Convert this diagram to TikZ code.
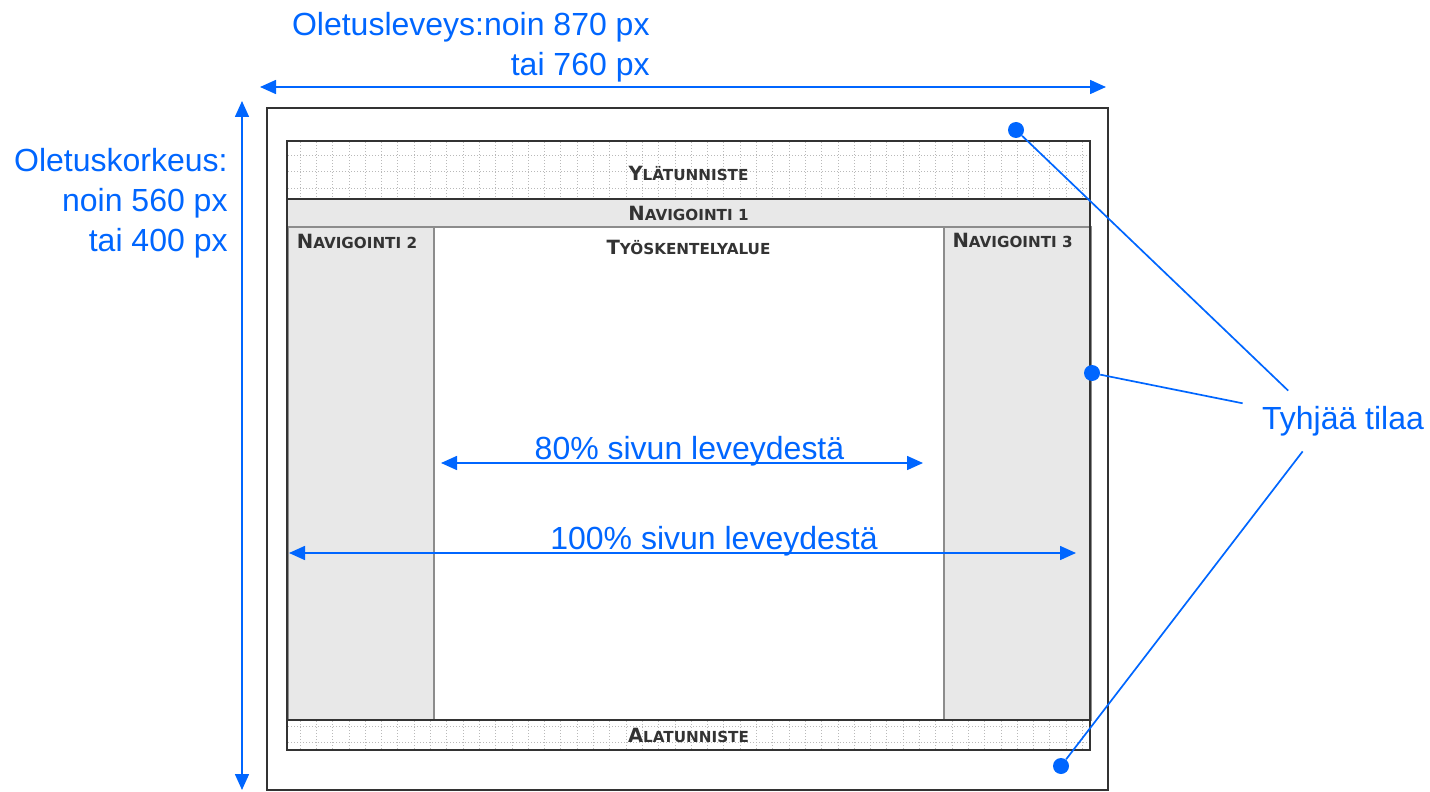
\documentclass[tikz,border=0pt]{standalone}
\usepackage{fontspec}
\setmainfont{Liberation Sans}
\newfontfamily\boxfont{DejaVu Sans}
\usetikzlibrary{arrows.meta}
\definecolor{annoblue}{RGB}{0,102,255}
\definecolor{framegray}{RGB}{51,51,51}
\definecolor{dividergray}{RGB}{140,140,140}
\definecolor{panelgray}{RGB}{232,232,232}
\definecolor{dotgrid}{RGB}{185,185,185}
\newcommand{\fakesc}[2]{{\fontsize{9.8}{11}\selectfont #1}{\fontsize{7.6}{9}\selectfont #2}}

\begin{document}
\begin{tikzpicture} [
      x=0.5pt, y=-0.5pt,
      region/.style={draw=dividergray, line width=1pt, rectangle, inner sep=0pt, outer sep=0pt},
      band/.style={region, draw=framegray, minimum width=401.5pt},
      boxlabel/.style={inner sep=0pt, font=\boxfont\bfseries, text=black!80, text height=7.2pt, text depth=0pt},
      dimension/.style={{Triangle[length=8pt, width=7pt]}-{Triangle[length=8pt, width=7pt]}, line width=0.8pt, draw=annoblue, fill=annoblue},
      dimlabel/.style={text=annoblue, font=\fontsize{16}{20}\selectfont, inner sep=0pt},
      spot/.style={circle, fill=annoblue, minimum size=8pt, inner sep=0pt},
      leader/.style={draw=annoblue, line width=0.85pt},
      gridline/.style={draw=dotgrid, line width=0.4pt, dash pattern=on 0.5pt off 1pt}
   ]
    \useasboundingbox (0,0) rectangle (1430,792);

    \node[region, draw=framegray, minimum width=420.5pt, minimum height=341pt] (sivu) at (687.5,449) {};

    \node[band, minimum height=29pt] (ylatunniste) at (688.5,170) {};
    \node[band, fill=panelgray, minimum height=14pt, below of=ylatunniste, node distance=21.5pt] (nav1) {};
    \node[region, fill=white, minimum width=255pt, minimum height=246.5pt, below of=nav1, node distance=130.25pt] (tyoalue) {};
    \node[region, fill=panelgray, minimum width=73pt, minimum height=246.5pt, left of=tyoalue, node distance=164pt] (nav2) {};
    \node[region, fill=panelgray, minimum width=73.5pt, minimum height=246.5pt, right of=tyoalue, node distance=164.25pt] (nav3) {};
    \node[band, minimum height=15pt, below of=tyoalue, node distance=130.75pt] (alatunniste) {};

    \foreach \k in {1,...,49} {
      \draw[gridline] ([xshift=\k*8.15pt-1.65pt, yshift=-0.6pt]ylatunniste.north west) -- ([xshift=\k*8.15pt-1.65pt, yshift=0.6pt]ylatunniste.south west);
      \draw[gridline] ([xshift=\k*8.15pt-1.65pt, yshift=-0.6pt]alatunniste.north west) -- ([xshift=\k*8.15pt-1.65pt, yshift=0.6pt]alatunniste.south west);
    }
    \foreach \k in {1,2,3}
      \draw[gridline] ([xshift=0.6pt, yshift=-\k*8.25pt+1.25pt]ylatunniste.north west) -- ([xshift=-0.6pt, yshift=-\k*8.25pt+1.25pt]ylatunniste.north east);
    \foreach \d in {3,11}
      \draw[gridline] ([xshift=0.6pt, yshift=-\d pt]alatunniste.north west) -- ([xshift=-0.6pt, yshift=-\d pt]alatunniste.north east);

    \draw[framegray, line width=1pt] (ylatunniste.north west) rectangle (alatunniste.south east);

    \node[boxlabel] (lblYla) at ([yshift=-1.5pt]ylatunniste.center) {\fakesc{Y}{LÄTUNNISTE}};
    \node[boxlabel] (lblNav1) at (nav1) {\fakesc{N}{AVIGOINTI 1}};
    \node[boxlabel, anchor=west] (lblNav2) at ([xshift=4.5pt, yshift=-7pt]nav2.north west) {\fakesc{N}{AVIGOINTI 2}};
    \node[boxlabel] (lblTyo) at ([yshift=-10.25pt]tyoalue.north) {\fakesc{T}{YÖSKENTELYALUE}};
    \node[boxlabel, anchor=west] (lblNav3) at ([xshift=4.3pt, yshift=-6.5pt]nav3.north west) {\fakesc{N}{AVIGOINTI 3}};
    \node[boxlabel] (lblAla) at (alatunniste) {\fakesc{A}{LATUNNISTE}};

    \coordinate (leveysVasen) at (260,87);
    \coordinate (leveysOikea) at (1106,87);
    \draw[dimension] (leveysVasen) -- (leveysOikea);
    \node[dimlabel, anchor=east, align=right] (lblLeveys) at (650,47) {Oletusleveys:noin 870 px\\tai 760 px};

    \coordinate (korkeusYla) at (242,101);
    \coordinate (korkeusAla) at (242,790);
    \draw[dimension] (korkeusYla) -- (korkeusAla);
    \node[dimlabel, anchor=east, align=right] (lblKorkeus) at (228,203) {Oletuskorkeus:\\noin 560 px\\tai 400 px};

    \coordinate (kapeaVasen) at (441,463);
    \coordinate (kapeaOikea) at (923,463);
    \draw[dimension] (kapeaVasen) -- node[dimlabel, anchor=base, yshift=2pt, xshift=3.75pt]{80\% sivun leveydestä} (kapeaOikea);

    \coordinate (leveaVasen) at (289,553);
    \coordinate (leveaOikea) at (1076,553);
    \draw[dimension] (leveaVasen) -- node[dimlabel, anchor=base, yshift=2pt, xshift=15.75pt]{100\% sivun leveydestä} (leveaOikea);

    \node[spot] (tyhja1) at (1016,130) {};
    \node[spot] (tyhja2) at (1092,373) {};
    \node[spot] (tyhja3) at (1061,766) {};
    \node[dimlabel, minimum width=100pt, minimum height=30pt] (lblTyhja) at (1343,421) {Tyhjää tilaa};
    \draw[leader] (tyhja1) -- (lblTyhja.151);
    \draw[leader] (tyhja2) -- (lblTyhja.170);
    \draw[leader] (tyhja3) -- (lblTyhja.217);

  \end{tikzpicture}
\end{document}
